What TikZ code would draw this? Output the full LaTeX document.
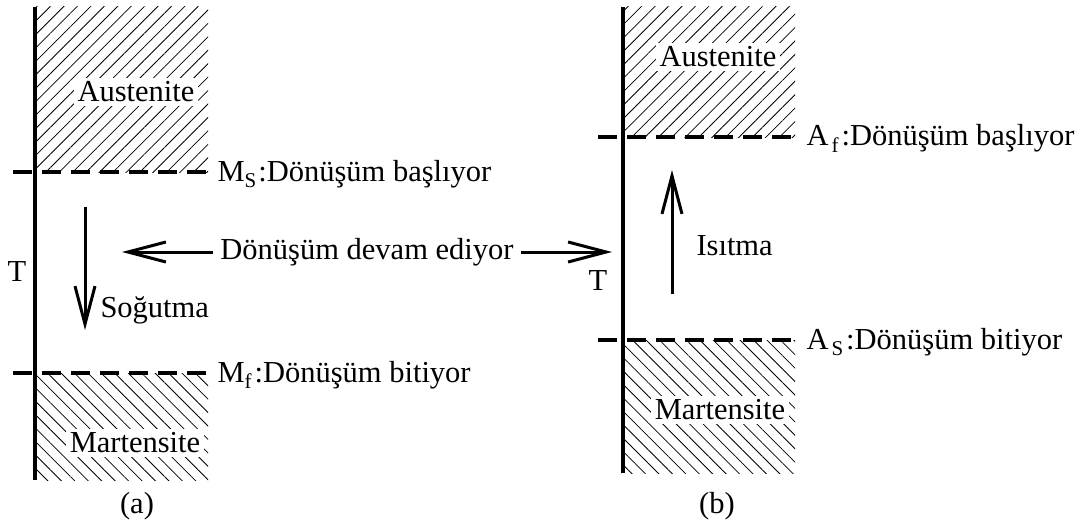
\documentclass[tikz,border=0pt]{standalone}
\usepackage{fontspec}
\setmainfont{Liberation Serif}
\usetikzlibrary{arrows.meta, patterns.meta, positioning}
\newcommand{\lowidx}[1]{\raisebox{-6pt}{\fontsize{21}{21}\selectfont #1}}
\tikzset{
  every picture/.style={line width=1pt},
  lbl/.style={font=\fontsize{30.5}{34}\selectfont, inner sep=1pt},
  phase/.style={lbl, fill=white, inner sep=3.5pt},
  axis/.style={line width=4.5pt},
  limit/.style={line width=3.5pt, dash pattern=on 19pt off 10pt},
  hotzone/.style={pattern={Lines[angle=45, distance=9.5pt, line width=0.8pt]}},
  coldzone/.style={pattern={Lines[angle=-45, distance=9.5pt, line width=0.8pt]}},
  arrow/.style={-{Straight Barb[length=38pt, width=20pt]}, line width=3pt},
}

\begin{document}
\begin{tikzpicture}[x=1pt, y=-1pt]
  \useasboundingbox (0,0) rectangle (1088,527);
  % (a) cooling
  \fill[hotzone] (35,7) rectangle (208,172);
  \fill[coldzone] (35,373) rectangle (208,480);
  \node[phase] (austA) at (136,92) {Austenite};
  \node[phase] (martA) at (135,443) {Martensite};
  \coordinate (atop) at (35,7);
  \coordinate (abot) at (35,480);
  \draw[axis] (atop) -- (abot);
  \coordinate (msL) at (13,172);
  \coordinate (msR) at (208,172);
  \coordinate (mfL) at (13,373);
  \coordinate (mfR) at (208,373);
  \draw[limit] (msL) -- (msR);
  \draw[limit] (mfL) -- (mfR);
  \node[lbl, anchor=base west] (ms) at (216,181) {M\lowidx{S}\kern2pt:Dönüşüm başlıyor};
  \node[lbl, anchor=base west] (mf) at (216,382) {M\lowidx{f}\kern3pt:Dönüşüm bitiyor};
  \node[lbl] (Ta) at (17,272) {T};
  \coordinate (coolA) at (85,207);
  \coordinate (coolB) at (85,330);
  \draw[arrow] (coolA) -- (coolB);
  \node[lbl, anchor=west] (cool) at (99,310) {Soğutma};
  \node[lbl] (capA) at (137,506) {(a)};

  % shared label
  \node[lbl] (devam) at (367,252) {Dönüşüm devam ediyor};
  \coordinate (tipL) at (122,252);
  \coordinate (tipR) at (612,252);
  \draw[arrow, shorten <=6pt] (devam) -- (tipL);
  \draw[arrow, shorten <=6pt] (devam) -- (tipR);

  % (b) heating
  \fill[hotzone] (623,7) rectangle (795,137);
  \fill[coldzone] (623,340) rectangle (795,473);
  \node[phase] (austB) at (718,57) {Austenite};
  \node[phase] (martB) at (720,410) {Martensite};
  \coordinate (btop) at (623,7);
  \coordinate (bbot) at (623,473);
  \draw[axis] (btop) -- (bbot);
  \coordinate (afL) at (598,137);
  \coordinate (afR) at (795,137);
  \coordinate (asL) at (598,340);
  \coordinate (asR) at (795,340);
  \draw[limit] (afL) -- (afR);
  \draw[limit] (asL) -- (asR);
  \node[lbl, anchor=base west] (af) at (805,146) {A\kern3pt\lowidx{f}\kern3pt:Dönüşüm başlıyor};
  \node[lbl, anchor=base west] (as) at (805,349) {A\kern3pt\lowidx{S}\kern3pt:Dönüşüm bitiyor};
  \node[lbl] (Tb) at (598,281) {T};
  \coordinate (heatA) at (672,294);
  \coordinate (heatB) at (672,170);
  \draw[arrow] (heatA) -- (heatB);
  \node[lbl, anchor=west] (heat) at (695,246) {Isıtma};
  \node[lbl] (capB) at (717,506) {(b)};
\end{tikzpicture}
\end{document}
